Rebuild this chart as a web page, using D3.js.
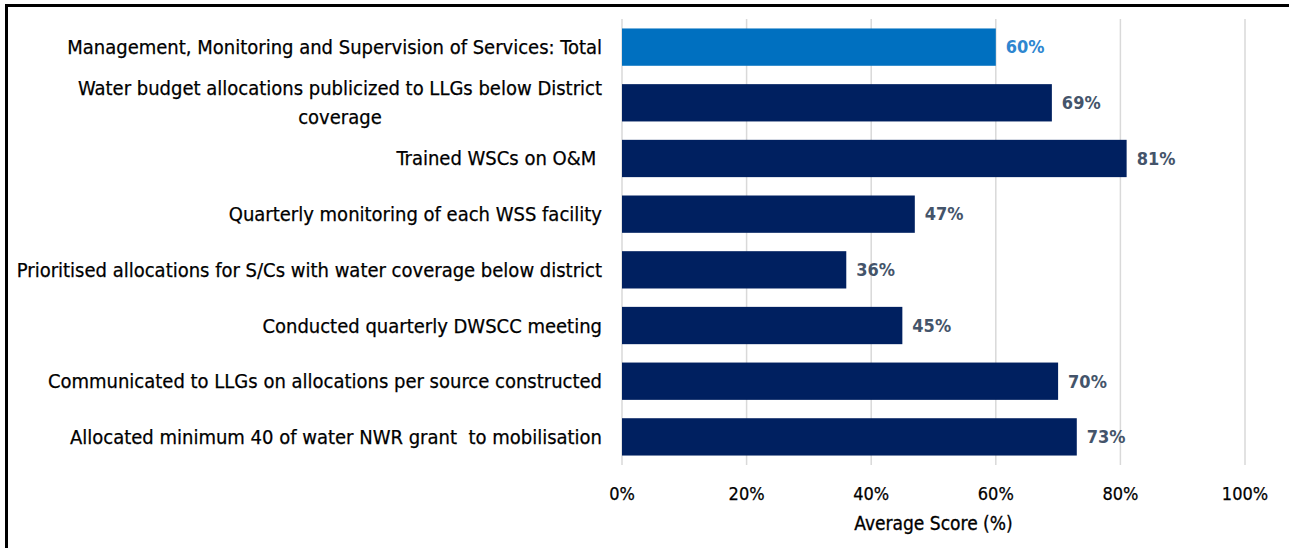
<!DOCTYPE html>
<html>
<head>
    <meta charset="UTF-8">
    <script src="https://d3js.org/d3.v7.min.js"></script>
    <style>
        body { margin: 0; background: #fff; }
        svg { display: block; }
        text { font-family: "Liberation Sans Narrow", "DejaVu Sans Condensed", "Roboto", sans-serif; white-space: pre; }
    </style>
</head>
<body>
    <svg id="chart"></svg>

    <script>
    // DATA
    var categories = [
        ["Management, Monitoring and Supervision of Services: Total"],
        ["Water budget allocations publicized to LLGs below District", "coverage"],
        ["Trained WSCs on O&M "],
        ["Quarterly monitoring of each WSS facility"],
        ["Prioritised allocations for S/Cs with water coverage below district"],
        ["Conducted quarterly DWSCC meeting"],
        ["Communicated to LLGs on allocations per source constructed"],
        ["Allocated minimum 40 of water NWR grant  to mobilisation"]
    ];
    var scores = [60, 69, 81, 47, 36, 45, 70, 73];
    var xTicks = [0, 20, 40, 60, 80, 100];
    var xTitle = "Average Score (%)";

    var width = 1289,
        height = 548;

    var margin = {top: 19, right: 44, bottom: 83, left: 622};

    var svg = d3.select("#chart")
                .attr("width", width)
                .attr("height", height);

    // frame (top + left only visible)
    svg.append("line")
        .attr("x1", 5).attr("x2", width)
        .attr("y1", 5.5).attr("y2", 5.5)
        .attr("stroke", "#000").attr("stroke-width", 3);
    svg.append("line")
        .attr("x1", 6.5).attr("x2", 6.5)
        .attr("y1", 4).attr("y2", height)
        .attr("stroke", "#000").attr("stroke-width", 3);

    var x = d3.scaleLinear()
              .domain([0, 100])
              .range([margin.left, width - margin.right]);

    var y = d3.scaleBand()
              .domain(d3.range(categories.length))
              .range([margin.top, height - margin.bottom])
              .paddingInner(0.33)
              .paddingOuter(0.17);

    // gridlines
    svg.append("g")
        .selectAll("line")
        .data(xTicks)
        .enter().append("line")
            .attr("x1", d => x(d)).attr("x2", d => x(d))
            .attr("y1", margin.top).attr("y2", height - margin.bottom)
            .attr("stroke", "#d9d9d9")
            .attr("stroke-width", 1.5);

    // bars
    svg.append("g")
        .selectAll("rect")
        .data(scores)
        .enter().append("rect")
            .attr("x", x(0))
            .attr("y", (d, i) => y(i))
            .attr("width", d => x(d) - x(0))
            .attr("height", y.bandwidth())
            .attr("fill", (d, i) => i == 0 ? "#0070c0" : "#002060");

    // value labels
    svg.append("g")
        .selectAll("text")
        .data(scores)
        .enter().append("text")
            .attr("x", d => x(d) + 10)
            .attr("y", (d, i) => y(i) + y.bandwidth() / 2)
            .attr("dy", "0.35em")
            .attr("font-size", 18)
            .attr("font-weight", "bold")
            .attr("fill", (d, i) => i == 0 ? "#2e86d0" : "#44546a")
            .text(d => d + "%");

    // category labels, wrapped lines centred on the longest line
    var labelRight = margin.left - 20;
    var lineGap = 29;
    categories.forEach(function(lines, i) {
        var cy = y(i) + y.bandwidth() / 2;
        var g = svg.append("g").attr("class", "catLabel");
        var texts = lines.map(function(line, j) {
            return g.append("text")
                .attr("y", cy + (j - (lines.length - 1) / 2) * lineGap)
                .attr("dy", "0.35em")
                .attr("font-size", 20)
                .attr("fill", "#000")
                .attr("stroke", "#000")
                .attr("stroke-width", 0.25)
                .text(line);
        });
        var maxW = d3.max(texts, t => t.node().getComputedTextLength());
        texts.forEach(t => t.attr("text-anchor", "middle").attr("x", labelRight - maxW / 2));
    });

    // x axis tick labels
    svg.append("g")
        .selectAll("text")
        .data(xTicks)
        .enter().append("text")
            .attr("x", d => x(d))
            .attr("y", 494)
            .attr("dy", "0.35em")
            .attr("text-anchor", "middle")
            .attr("font-size", 18)
            .attr("fill", "#000")
            .attr("stroke", "#000")
            .attr("stroke-width", 0.25)
            .text(d => d + "%");

    svg.append("text")
        .attr("x", (x(0) + x(100)) / 2)
        .attr("y", 523)
        .attr("dy", "0.35em")
        .attr("text-anchor", "middle")
        .attr("font-size", 19)
        .attr("fill", "#000")
        .attr("stroke", "#000")
        .attr("stroke-width", 0.3)
        .text(xTitle);
    </script>
</body>
</html>
